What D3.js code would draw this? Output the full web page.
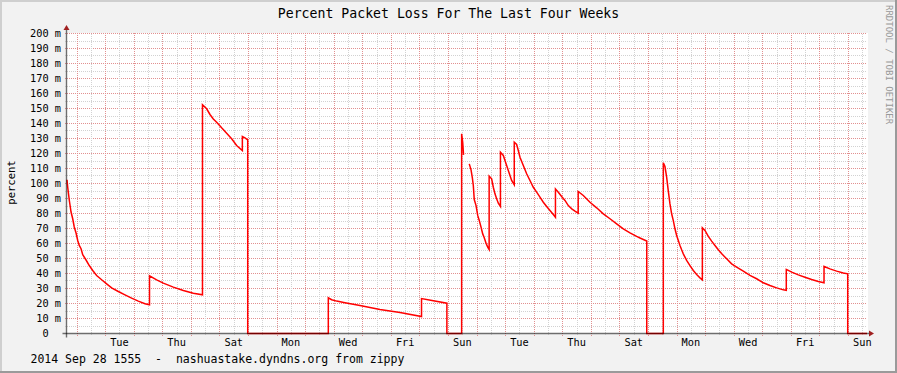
<!DOCTYPE html>
<html>
<head>
<meta charset="utf-8">
<script src="https://cdn.jsdelivr.net/npm/d3@7"></script>
<style>
    html, body { margin: 0; padding: 0; background: #f2f2f2; }
    text { font-family: "DejaVu Sans Mono", monospace; white-space: pre; }
</style>
</head>
<body>
<div id="chart"></div>
<script>
// Data: hours since the start of the window and packet loss in milli-percent.
// Pairs with the same hour are the sudden jumps; null is unknown data.
const hoursIn = [
    0, 0.6, 1.9, 3.4, 4.8, 6.1, 7.6, 9.0, 10.3, 11.8, 13.2, 16.0, 18.7, 21.6, 24.9, 29.1,
    33.3, 37.5, 43.1, 48.7, 54.3, 59.9, 65.5, 69.3,
    69.3, 75.3, 80.9, 89.3, 97.7, 106.1, 113.8,
    113.8, 117.3, 120.1, 122.9, 125.7, 129.9, 134.1, 138.3, 142.5, 147.3,
    147.3, 149.5, 151.8,
    151.8, 219.5,
    219.5, 222.3, 226.5, 233.5, 246.1, 262.9, 279.7, 297.8,
    297.8, 306.6, 319.1,
    319.1, 331.5,
    331.5, 332.4, 333.1, 335.5,
    337.9, 339.4, 340.5, 341.3, 342.1, 343.6, 345.0, 346.3, 347.8, 349.2, 350.5, 352.0, 353.4, 354.6,
    354.6, 356.7, 358.1, 359.5, 360.9, 362.3, 364.1,
    364.1, 366.5, 367.9, 369.3, 370.7, 372.1, 373.5, 375.7,
    375.7, 377.7, 379.1, 380.5, 383.3, 386.1, 388.9, 391.7, 394.5, 397.3, 400.1, 402.9, 405.7, 408.5, 410.3,
    410.3, 412.7, 415.5, 418.3, 421.1, 424.0, 426.7, 429.4,
    429.4, 433.7, 439.3, 444.9, 450.5, 456.1, 461.7, 467.3, 472.9, 478.5, 481.3, 487.0,
    487.0, 500.9,
    500.9, 502.3, 503.7, 505.1, 506.5, 507.9, 509.3, 510.7, 512.1, 513.5, 514.9, 516.3, 517.7,
    520.5, 523.3, 526.1, 528.9, 531.7, 533.7,
    533.7, 535.9, 538.7, 541.5, 544.3, 547.1, 550.0, 554.1, 558.3, 562.5, 568.1, 573.7, 579.3,
    584.9, 590.5, 596.1, 601.7, 604.2,
    604.2, 608.8, 614.3, 619.9, 625.5, 631.1, 635.9,
    635.9, 640.9, 646.5, 652.1, 655.8,
    655.8, 672
];
const lossMilli = [
    102.5, 97.5, 89, 81, 76.5, 71, 67, 62, 58.7, 56.5, 52.5, 49, 45.3, 42, 38.7, 35.8,
    33.1, 30.4, 28, 25.8, 23.6, 21.6, 19.8, 19.1,
    38.5, 35.8, 33.6, 30.9, 28.7, 26.9, 25.8,
    152.5, 149.8, 146, 143, 140.9, 137.1, 133.5, 129.8, 125.3, 122,
    131.3, 130.4, 129.1,
    0, 0,
    23.8, 22.5, 21.6, 20.5, 18.7, 16, 14, 11.3,
    23.3, 22, 20.2,
    0, 0,
    133.1, 127.5, 119.1, null,
    113.1, 109.1, 103.8, 98.7, 89.3, 85.3, 78.7, 75.3, 70.9, 66.4, 63.8, 60.2, 57.6, 56,
    104.9, 103.1, 97.5, 93.1, 89.8, 86.9, 84.7,
    120.9, 118.7, 115.3, 112, 108.7, 105.3, 102, 99.1,
    127.5, 126, 122, 117.5, 112, 106.5, 102, 97.5, 94.2, 90.9, 87.5, 84.7, 82, 79.3, 77.5,
    96.4, 94.2, 91.3, 88.7, 85.3, 83.1, 81.6, 80.2,
    94.7, 92, 87.5, 83.8, 79.8, 76.5, 73.1, 69.8, 67.1, 64.7, 63.7, 61.6,
    0, 0,
    113.8, 111.3, 104.2, 94.9, 86.4, 79.8, 75.3, 69.8, 65.3, 62, 58.7, 55.8, 53.1,
    48.7, 45.3, 42, 39.3, 37.1, 35.8,
    70.4, 68.7, 64.7, 61.6, 58.7, 55.8, 53.1, 49.8, 46.4, 44.2, 41.6, 38.7, 36.5,
    33.8, 32, 30.4, 29.1, 28.7,
    42.7, 40.9, 39.1, 37.5, 36, 34.7, 33.8,
    44.7, 43.1, 41.6, 40.4, 39.8,
    0, 0
];
const yTicks = [0, 10, 20, 30, 40, 50, 60, 70, 80, 90, 100, 110, 120, 130, 140, 150, 160, 170, 180, 190, 200];

const titleText = 'Percent Packet Loss For The Last Four Weeks';
const yLabel = 'percent';
const footerText = '2014 Sep 28 1555  -  nashuastake.dyndns.org from zippy';
const watermark = 'RRDTOOL / TOBI OETIKER';

const endTime = new Date(2014, 8, 28, 15, 55);
const startTime = new Date(2014, 7, 31, 15, 55);

const width = 897;
const height = 373;
const margin = {top: 33, left: 67, right: 30, bottom: 40};
const chartWidth = width - margin.left - margin.right;   // 800
const chartHeight = height - margin.top - margin.bottom; // 300

const data = hoursIn.map((h, i) => ({
    t: d3.timeMinute.offset(startTime, Math.round(h * 60)),
    v: lossMilli[i]
}));

let xScale, yScale, svg;

function buildScales() {
    xScale = d3.scaleTime()
        .domain([startTime, endTime])
        .range([margin.left, margin.left + chartWidth]);
    yScale = d3.scaleLinear()
        .domain([0, 200])
        .range([margin.top + chartHeight, margin.top]);
}

function buildSVG() {
    svg = d3.select('#chart').append('svg')
        .attr('width', width)
        .attr('height', height);

    svg.append('rect')
        .attr('width', width).attr('height', height)
        .attr('fill', '#f2f2f2');
    // rrdtool style bevel: light top/left, dark bottom/right
    svg.append('path')
        .attr('d', `M0,0H${width}V2H2V${height}H0Z`)
        .attr('fill', '#cfcfcf');
    svg.append('path')
        .attr('d', `M${width},${height}H0V${height - 2}H${width - 2}V0H${width}Z`)
        .attr('fill', '#9a9a9a');

    svg.append('rect')
        .attr('x', margin.left).attr('y', margin.top)
        .attr('width', chartWidth + 1).attr('height', chartHeight)
        .attr('fill', '#ffffff');
}

function drawGrid() {
    const g = svg.append('g').attr('shape-rendering', 'crispEdges');
    const y0 = yScale(0), y1 = yScale(200);
    const x0 = margin.left, x1 = margin.left + chartWidth;
    const minorColor = '#d2d2d2';
    const majorColor = '#e29090';

    // horizontal: minor every 5, major every 10
    const minorY = d3.range(5, 200, 10);
    g.selectAll('.hminor').data(minorY).enter().append('line')
        .attr('x1', x0 - 2).attr('x2', x1)
        .attr('y1', d => Math.round(yScale(d)) + 0.5)
        .attr('y2', d => Math.round(yScale(d)) + 0.5)
        .attr('stroke', minorColor).attr('stroke-dasharray', '1,1');
    g.selectAll('.hmajor').data(yTicks.slice(1)).enter().append('line')
        .attr('x1', x0 - 2).attr('x2', x1)
        .attr('y1', d => Math.round(yScale(d)) + 0.5)
        .attr('y2', d => Math.round(yScale(d)) + 0.5)
        .attr('stroke', majorColor).attr('stroke-dasharray', '1,1');

    // vertical: minor every 12 hours, major every day
    const minorX = d3.timeHour.every(12).range(startTime, endTime)
        .filter(d => d.getHours() === 12);
    const majorX = d3.timeDay.range(startTime, endTime);
    g.selectAll('.vminor').data(minorX).enter().append('line')
        .attr('x1', d => Math.round(xScale(d)) + 0.5)
        .attr('x2', d => Math.round(xScale(d)) + 0.5)
        .attr('y1', y0 + 2).attr('y2', y1)
        .attr('stroke', minorColor).attr('stroke-dasharray', '1,1');
    g.selectAll('.vmajor').data(majorX).enter().append('line')
        .attr('x1', d => Math.round(xScale(d)) + 0.5)
        .attr('x2', d => Math.round(xScale(d)) + 0.5)
        .attr('y1', y0 + 3).attr('y2', y1)
        .attr('stroke', majorColor).attr('stroke-dasharray', '1,1');
}

function drawLine() {
    const line = d3.line()
        .defined(d => d.v !== null)
        .x(d => xScale(d.t))
        .y(d => yScale(d.v) + 0.5);
    svg.append('path')
        .datum(data)
        .attr('d', line)
        .attr('fill', 'none')
        .attr('stroke', '#ff0000')
        .attr('stroke-width', 1.5)
        .attr('stroke-linejoin', 'miter');
}

function drawAxes() {
    const y0 = Math.round(yScale(0)) + 0.5;
    const x0 = margin.left - 0.5;
    const arrowColor = '#a02020';

    // semi-transparent dark axis: grey over white, dark red over the zero line
    svg.append('line')
        .attr('x1', x0 - 4).attr('x2', margin.left + chartWidth + 2)
        .attr('y1', y0).attr('y2', y0)
        .attr('stroke', '#000').attr('stroke-opacity', 0.55)
        .attr('stroke-width', 1.6);
    svg.append('line')
        .attr('x1', x0).attr('x2', x0)
        .attr('y1', y0 + 4).attr('y2', margin.top - 3)
        .attr('stroke', '#000').attr('stroke-opacity', 0.55)
        .attr('stroke-width', 1.4);
    svg.append('path')
        .attr('d', `M${x0 - 3},${margin.top - 3}L${x0 + 3},${margin.top - 3}L${x0},${margin.top - 8}Z`)
        .attr('fill', arrowColor);
    const xe = margin.left + chartWidth + 2;
    svg.append('path')
        .attr('d', `M${xe},${y0 - 3}L${xe},${y0 + 3}L${xe + 5},${y0}Z`)
        .attr('fill', arrowColor);

    // y tick labels
    svg.append('g').selectAll('text').data(yTicks).enter().append('text')
        .attr('x', margin.left - 6)
        .attr('y', d => yScale(d))
        .attr('dy', '0.36em')
        .attr('text-anchor', 'end')
        .attr('font-size', '10.3px')
        .text(d => d === 0 ? '0  ' : `${d} m`);

    // day labels every other day, centred at noon
    const labelDays = d3.timeDay.range(new Date(2014, 8, 2), endTime)
        .filter((d, i) => i % 2 === 0);
    svg.append('g').selectAll('text').data(labelDays).enter().append('text')
        .attr('x', d => xScale(d3.timeHour.offset(d, 12)))
        .attr('y', 346)
        .attr('text-anchor', 'middle')
        .attr('font-size', '10.3px')
        .text(d => d3.timeFormat('%a')(d));
}

function drawTexts() {
    svg.append('text')
        .attr('x', 448.5).attr('y', 18.3)
        .attr('text-anchor', 'middle')
        .attr('font-size', '13.2px')
        .text(titleText);
    svg.append('text')
        .attr('transform', 'translate(15,182.5) rotate(-90)')
        .attr('text-anchor', 'middle')
        .attr('font-size', '10.5px')
        .text(yLabel);
    svg.append('text')
        .attr('x', 30.5).attr('y', 362.5)
        .attr('font-size', '11.5px')
        .text(footerText);
    svg.append('text')
        .attr('transform', 'translate(885.5,5) rotate(90)')
        .attr('font-size', '9px')
        .attr('fill', '#999999')
        .text(watermark);
}

buildScales();
buildSVG();
drawGrid();
drawLine();
drawAxes();
drawTexts();
</script>
</body>
</html>
